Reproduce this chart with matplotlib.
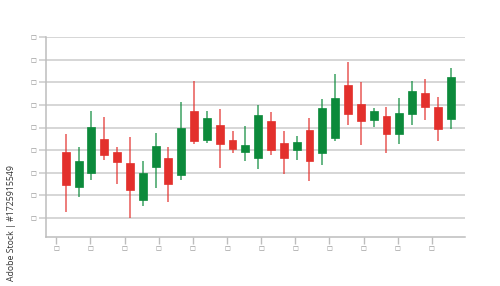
import matplotlib
matplotlib.use("Agg")
import matplotlib.pyplot as plt
import numpy as np

# OHLC data (arbitrary units; gridlines every 10)
opens  = [29.3, 13.7, 20.1, 35.1, 29.1, 24.3, 8.0, 22.6, 26.7, 18.9, 47.4, 34.4, 41.2, 34.7, 29.1, 26.4,
          42.8, 33.1, 30.0, 39.1, 28.9, 35.4, 58.9, 50.6, 43.4, 45.0, 37.1, 46.0, 55.5, 49.1, 43.7]
highs  = [37.1, 31.4, 47.4, 44.7, 31.4, 36.0, 25.2, 37.5, 31.6, 51.2, 60.6, 47.2, 48.1, 38.6, 40.7, 50.2,
          46.8, 38.5, 36.3, 44.3, 52.8, 63.9, 69.2, 60.1, 48.6, 49.1, 53.0, 60.8, 61.4, 53.4, 66.5]
lows   = [2.8, 9.3, 16.7, 25.5, 14.9, 0.1, 5.2, 13.4, 7.2, 16.8, 32.8, 33.3, 22.1, 28.9, 25.4, 21.8,
          27.9, 19.6, 25.7, 16.4, 23.5, 34.0, 41.2, 32.3, 40.4, 28.9, 32.6, 41.2, 43.5, 34.1, 39.4]
closes = [14.6, 25.2, 40.3, 27.8, 24.7, 12.4, 19.9, 31.7, 15.1, 40.0, 34.1, 44.4, 32.9, 30.7, 32.4, 45.4,
          30.2, 26.4, 33.8, 25.2, 48.6, 53.0, 46.0, 42.9, 47.4, 37.1, 46.5, 56.1, 49.0, 39.5, 62.3]

y_ticks = [0, 10, 20, 30, 40, 50, 60, 70, 80]
y_tick_labels = ["\u25a1"] * len(y_ticks)
x_ticks = [-0.73 + 2.66 * k for k in range(12)]
x_tick_labels = ["\u25a1"] * len(x_ticks)

RED = "#e3302c"
GREEN = "#0c8a3b"
GRID = "#cfcfcf"
AXIS = "#bdbdbd"

fig = plt.figure(figsize=(5.0, 2.86), dpi=100)
fig.patch.set_facecolor("white")

W, H = 500.0, 286.0
left_px, right_px = 45.7, 465.0
bottom_px, top_px = 237.3, 36.6
ax = fig.add_axes([left_px / W, 1 - bottom_px / H, (right_px - left_px) / W, (bottom_px - top_px) / H])

x = np.arange(len(opens))
body_w = 0.62
for i in range(len(opens)):
    o, h, l, c = opens[i], highs[i], lows[i], closes[i]
    col = GREEN if c >= o else RED
    ax.vlines(x[i], l, h, color=col, linewidth=1.1, alpha=0.8, zorder=3)
    ax.bar(x[i], abs(c - o), bottom=min(o, c), width=body_w, color=col, edgecolor=col,
           linewidth=0.5, zorder=4)

ax.set_xlim(-1.56, 31.12)
ax.set_ylim(-8.54, 80.3)

ax.set_yticks(y_ticks)
ax.set_yticklabels(y_tick_labels, fontsize=4.5, color="#8a8a8a", family="DejaVu Sans")
ax.set_xticks(x_ticks)
ax.set_xticklabels(x_tick_labels, fontsize=4.5, color="#8a8a8a", family="DejaVu Sans")

ax.grid(axis="y", color=GRID, linewidth=1.2, zorder=0)
ax.set_axisbelow(True)
ax.tick_params(axis="y", length=5, width=1.2, color=GRID, pad=1.5)
ax.tick_params(axis="x", length=5, width=1.0, color=AXIS, pad=1.5)

for s in ["top", "right"]:
    ax.spines[s].set_visible(False)
for s in ["left", "bottom"]:
    ax.spines[s].set_color(AXIS)
    ax.spines[s].set_linewidth(1.1)

fig.text(11.5 / W, 1 - 165 / H, "Adobe Stock | #1725915549", rotation=90,
         ha="center", va="top", fontsize=6.3, color="#333333", family="Open Sans")

fig.savefig("out.png", dpi=100, facecolor="white")
